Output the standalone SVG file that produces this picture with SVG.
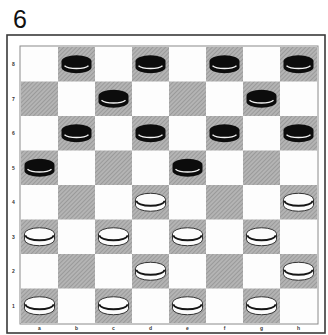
<svg xmlns="http://www.w3.org/2000/svg" width="328" height="335" viewBox="0 0 328 335">
  <style>
    .num { font-family: "Liberation Sans", Arial, sans-serif; font-size: 25px; fill: #111; }
    .lbl { font-family: "Liberation Sans", Arial, sans-serif; font-size: 5px; fill: #333; text-anchor: middle; font-weight: bold; }
    .light { fill: #fdfdfd; }
    .dark { fill: url(#hatch); }
  </style>
  <defs>
    <pattern id="hatch" width="3" height="3" patternUnits="userSpaceOnUse" patternTransform="rotate(45)">
      <rect width="3" height="3" fill="#b4b4b4"/>
      <line x1="0" y1="0" x2="0" y2="3" stroke="#8c8c8c" stroke-width="1.3"/>
    </pattern>
    <g id="blackman">
      <path d="M -15,-3 A 15,6 0 0 1 15,-3 L 15,3 A 15,6 0 0 1 -15,3 Z" fill="#0c0c0c"/>
      <path d="M -12,1.5 A 13,4.5 0 0 0 12,1.5" fill="none" stroke="#f2f2f2" stroke-width="1.4"/>
    </g>
    <g id="whiteman">
      <path d="M -15,-3 A 15,6 0 0 1 15,-3 L 15,3 A 15,6 0 0 1 -15,3 Z" fill="#fcfcfc" stroke="#333" stroke-width="1"/>
      <path d="M -14,-1.5 A 14,5 0 0 0 14,-1.5" fill="none" stroke="#151515" stroke-width="1.8"/>
    </g>
  </defs>

  <rect width="328" height="335" fill="#ffffff"/>
  <text class="num" x="13" y="28">6</text>

  <g id="frame">
    <rect x="7" y="35" width="318" height="298" fill="#ffffff" stroke="#3a3a3a" stroke-width="1.6"/>
    <rect x="20" y="46" width="298" height="278" fill="none" stroke="#8a8a8a" stroke-width="1"/>
  </g>

  <g id="board">
    <rect x="21" y="47" width="296" height="276" class="light"/>
    <!-- row 0 -->
    <rect class="dark" x="58" y="47" width="37" height="34.5"/>
    <rect class="dark" x="132" y="47" width="37" height="34.5"/>
    <rect class="dark" x="206" y="47" width="37" height="34.5"/>
    <rect class="dark" x="280" y="47" width="37" height="34.5"/>
    <!-- row 1 -->
    <rect class="dark" x="21" y="81.5" width="37" height="34.5"/>
    <rect class="dark" x="95" y="81.5" width="37" height="34.5"/>
    <rect class="dark" x="169" y="81.5" width="37" height="34.5"/>
    <rect class="dark" x="243" y="81.5" width="37" height="34.5"/>
    <!-- row 2 -->
    <rect class="dark" x="58" y="116" width="37" height="34.5"/>
    <rect class="dark" x="132" y="116" width="37" height="34.5"/>
    <rect class="dark" x="206" y="116" width="37" height="34.5"/>
    <rect class="dark" x="280" y="116" width="37" height="34.5"/>
    <!-- row 3 -->
    <rect class="dark" x="21" y="150.5" width="37" height="34.5"/>
    <rect class="dark" x="95" y="150.5" width="37" height="34.5"/>
    <rect class="dark" x="169" y="150.5" width="37" height="34.5"/>
    <rect class="dark" x="243" y="150.5" width="37" height="34.5"/>
    <!-- row 4 -->
    <rect class="dark" x="58" y="185" width="37" height="34.5"/>
    <rect class="dark" x="132" y="185" width="37" height="34.5"/>
    <rect class="dark" x="206" y="185" width="37" height="34.5"/>
    <rect class="dark" x="280" y="185" width="37" height="34.5"/>
    <!-- row 5 -->
    <rect class="dark" x="21" y="219.5" width="37" height="34.5"/>
    <rect class="dark" x="95" y="219.5" width="37" height="34.5"/>
    <rect class="dark" x="169" y="219.5" width="37" height="34.5"/>
    <rect class="dark" x="243" y="219.5" width="37" height="34.5"/>
    <!-- row 6 -->
    <rect class="dark" x="58" y="254" width="37" height="34.5"/>
    <rect class="dark" x="132" y="254" width="37" height="34.5"/>
    <rect class="dark" x="206" y="254" width="37" height="34.5"/>
    <rect class="dark" x="280" y="254" width="37" height="34.5"/>
    <!-- row 7 -->
    <rect class="dark" x="21" y="288.5" width="37" height="34.5"/>
    <rect class="dark" x="95" y="288.5" width="37" height="34.5"/>
    <rect class="dark" x="169" y="288.5" width="37" height="34.5"/>
    <rect class="dark" x="243" y="288.5" width="37" height="34.5"/>
  </g>

  <g id="labels">
    <text class="lbl" x="13.5" y="66">8</text>
    <text class="lbl" x="13.5" y="100.5">7</text>
    <text class="lbl" x="13.5" y="135">6</text>
    <text class="lbl" x="13.5" y="169.5">5</text>
    <text class="lbl" x="13.5" y="204">4</text>
    <text class="lbl" x="13.5" y="238.5">3</text>
    <text class="lbl" x="13.5" y="273">2</text>
    <text class="lbl" x="13.5" y="307.5">1</text>
    <text class="lbl" x="39.5" y="330">a</text>
    <text class="lbl" x="76.5" y="330">b</text>
    <text class="lbl" x="113.5" y="330">c</text>
    <text class="lbl" x="150.5" y="330">d</text>
    <text class="lbl" x="187.5" y="330">e</text>
    <text class="lbl" x="224.5" y="330">f</text>
    <text class="lbl" x="261.5" y="330">g</text>
    <text class="lbl" x="298.5" y="330">h</text>
  </g>

  <g id="black-pieces">
    <use id="b1" href="#blackman" x="76.5" y="64.25"/>
    <use id="b2" href="#blackman" x="150.5" y="64.25"/>
    <use id="b3" href="#blackman" x="224.5" y="64.25"/>
    <use id="b4" href="#blackman" x="298.5" y="64.25"/>
    <use id="b5" href="#blackman" x="113.5" y="98.75"/>
    <use id="b6" href="#blackman" x="261.5" y="98.75"/>
    <use id="b7" href="#blackman" x="76.5" y="133.25"/>
    <use id="b8" href="#blackman" x="150.5" y="133.25"/>
    <use id="b9" href="#blackman" x="224.5" y="133.25"/>
    <use id="b10" href="#blackman" x="298.5" y="133.25"/>
    <use id="b11" href="#blackman" x="39.5" y="167.75"/>
    <use id="b12" href="#blackman" x="187.5" y="167.75"/>
  </g>

  <g id="white-pieces">
    <use id="w1" href="#whiteman" x="150.5" y="202.25"/>
    <use id="w2" href="#whiteman" x="298.5" y="202.25"/>
    <use id="w3" href="#whiteman" x="39.5" y="236.75"/>
    <use id="w4" href="#whiteman" x="113.5" y="236.75"/>
    <use id="w5" href="#whiteman" x="187.5" y="236.75"/>
    <use id="w6" href="#whiteman" x="261.5" y="236.75"/>
    <use id="w7" href="#whiteman" x="150.5" y="271.25"/>
    <use id="w8" href="#whiteman" x="298.5" y="271.25"/>
    <use id="w9" href="#whiteman" x="39.5" y="305.75"/>
    <use id="w10" href="#whiteman" x="113.5" y="305.75"/>
    <use id="w11" href="#whiteman" x="187.5" y="305.75"/>
    <use id="w12" href="#whiteman" x="261.5" y="305.75"/>
  </g>
</svg>
